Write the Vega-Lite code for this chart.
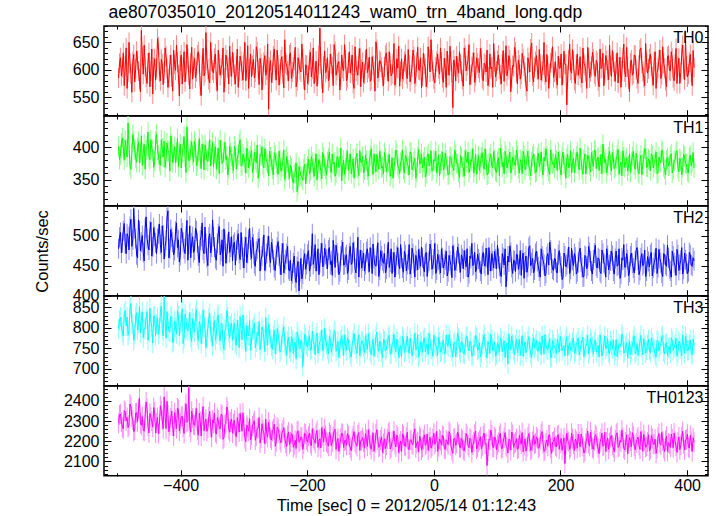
{
"$schema":"https://vega.github.io/schema/vega-lite/v6.json",
"padding":{"left":33,"top":4,"right":5,"bottom":0},
"title":{"text":"ae807035010_20120514011243_wam0_trn_4band_long.qdp","anchor":"start","fontSize":17.5,"dx":75,"offset":3},
"data":{"values":[
{"t":-498,"a":585,"b":402,"c":478,"d":798,"e":2290},
{"t":-495,"a":622,"b":388,"c":505,"d":826,"e":2335},
{"t":-492,"a":604,"b":415,"c":488,"d":790,"e":2270},
{"t":-489,"a":571,"b":380,"c":520,"d":835,"e":2352},
{"t":-486,"a":640,"b":398,"c":470,"d":805,"e":2301},
{"t":-483,"a":596,"b":438,"c":498,"d":782,"e":2268},
{"t":-480,"a":612,"b":372,"c":515,"d":848,"e":2385},
{"t":-477,"a":559,"b":392,"c":482,"d":812,"e":2322},
{"t":-474,"a":628,"b":410,"c":545,"d":770,"e":2248},
{"t":-471,"a":601,"b":384,"c":495,"d":829,"e":2340},
{"t":-468,"a":617,"b":400,"c":463,"d":795,"e":2297},
{"t":-465,"a":583,"b":376,"c":508,"d":852,"e":2415},
{"t":-462,"a":672,"b":418,"c":489,"d":818,"e":2280},
{"t":-459,"a":592,"b":391,"c":472,"d":776,"e":2255},
{"t":-456,"a":606,"b":366,"c":512,"d":801,"e":2330},
{"t":-453,"a":575,"b":402,"c":495,"d":840,"e":2362},
{"t":-450,"a":631,"b":385,"c":476,"d":788,"e":2242},
{"t":-447,"a":598,"b":412,"c":522,"d":815,"e":2318},
{"t":-444,"a":556,"b":394,"c":481,"d":763,"e":2270},
{"t":-441,"a":620,"b":379,"c":499,"d":829,"e":2345},
{"t":-438,"a":603,"b":421,"c":470,"d":810,"e":2290},
{"t":-435,"a":642,"b":388,"c":503,"d":784,"e":2238},
{"t":-432,"a":580,"b":372,"c":485,"d":838,"e":2376},
{"t":-429,"a":611,"b":399,"c":516,"d":797,"e":2305},
{"t":-426,"a":594,"b":410,"c":461,"d":876,"e":2420},
{"t":-423,"a":625,"b":382,"c":492,"d":775,"e":2262},
{"t":-420,"a":568,"b":395,"c":541,"d":812,"e":2331},
{"t":-417,"a":609,"b":363,"c":478,"d":790,"e":2279},
{"t":-414,"a":587,"b":405,"c":497,"d":826,"e":2350},
{"t":-411,"a":636,"b":390,"c":468,"d":768,"e":2226},
{"t":-408,"a":599,"b":376,"c":507,"d":803,"e":2308},
{"t":-405,"a":614,"b":414,"c":480,"d":842,"e":2365},
{"t":-402,"a":552,"b":392,"c":456,"d":781,"e":2251},
{"t":-399,"a":627,"b":368,"c":512,"d":815,"e":2322},
{"t":-396,"a":605,"b":401,"c":489,"d":762,"e":2270},
{"t":-393,"a":578,"b":385,"c":470,"d":834,"e":2340},
{"t":-390,"a":646,"b":432,"c":525,"d":798,"e":2294},
{"t":-387,"a":590,"b":379,"c":486,"d":810,"e":2466},
{"t":-384,"a":612,"b":396,"c":463,"d":776,"e":2245},
{"t":-381,"a":583,"b":388,"c":498,"d":823,"e":2316},
{"t":-378,"a":621,"b":410,"c":476,"d":790,"e":2280},
{"t":-375,"a":597,"b":371,"c":508,"d":845,"e":2362},
{"t":-372,"a":633,"b":393,"c":466,"d":770,"e":2230},
{"t":-369,"a":570,"b":382,"c":492,"d":808,"e":2298},
{"t":-366,"a":608,"b":405,"c":521,"d":785,"e":2328},
{"t":-363,"a":589,"b":365,"c":470,"d":822,"e":2252},
{"t":-360,"a":668,"b":396,"c":487,"d":752,"e":2310},
{"t":-357,"a":601,"b":378,"c":450,"d":799,"e":2265},
{"t":-354,"a":576,"b":412,"c":503,"d":836,"e":2348},
{"t":-351,"a":615,"b":388,"c":481,"d":778,"e":2220},
{"t":-348,"a":594,"b":370,"c":498,"d":805,"e":2290},
{"t":-345,"a":629,"b":401,"c":462,"d":770,"e":2245},
{"t":-342,"a":562,"b":384,"c":487,"d":828,"e":2318},
{"t":-339,"a":611,"b":359,"c":515,"d":783,"e":2270},
{"t":-336,"a":603,"b":396,"c":474,"d":812,"e":2335},
{"t":-333,"a":640,"b":377,"c":449,"d":761,"e":2210},
{"t":-330,"a":585,"b":408,"c":492,"d":796,"e":2282},
{"t":-327,"a":618,"b":386,"c":470,"d":843,"e":2370},
{"t":-324,"a":574,"b":368,"c":506,"d":788,"e":2258},
{"t":-321,"a":606,"b":392,"c":481,"d":805,"e":2296},
{"t":-318,"a":632,"b":375,"c":458,"d":770,"e":2240},
{"t":-315,"a":591,"b":402,"c":489,"d":812,"e":2305},
{"t":-312,"a":607,"b":366,"c":475,"d":758,"e":2222},
{"t":-309,"a":568,"b":389,"c":503,"d":795,"e":2290},
{"t":-306,"a":625,"b":412,"c":460,"d":828,"e":2338},
{"t":-303,"a":598,"b":372,"c":481,"d":771,"e":2250},
{"t":-300,"a":614,"b":385,"c":446,"d":805,"e":2275},
{"t":-297,"a":580,"b":360,"c":497,"d":743,"e":2198},
{"t":-294,"a":644,"b":394,"c":470,"d":790,"e":2268},
{"t":-291,"a":602,"b":381,"c":512,"d":818,"e":2312},
{"t":-288,"a":587,"b":395,"c":462,"d":768,"e":2230},
{"t":-285,"a":619,"b":368,"c":486,"d":801,"e":2290},
{"t":-282,"a":596,"b":382,"c":449,"d":752,"e":2205},
{"t":-279,"a":633,"b":404,"c":478,"d":789,"e":2262},
{"t":-276,"a":573,"b":361,"c":495,"d":816,"e":2318},
{"t":-273,"a":610,"b":387,"c":460,"d":760,"e":2215},
{"t":-270,"a":589,"b":373,"c":481,"d":794,"e":2256},
{"t":-267,"a":626,"b":398,"c":442,"d":742,"e":2188},
{"t":-264,"a":600,"b":379,"c":470,"d":781,"e":2240},
{"t":-261,"a":528,"b":356,"c":499,"d":810,"e":2295},
{"t":-258,"a":617,"b":385,"c":455,"d":772,"e":2218},
{"t":-255,"a":594,"b":366,"c":478,"d":748,"e":2250},
{"t":-252,"a":638,"b":392,"c":447,"d":795,"e":2285},
{"t":-249,"a":581,"b":375,"c":468,"d":760,"e":2198},
{"t":-246,"a":609,"b":358,"c":490,"d":786,"e":2262},
{"t":-243,"a":592,"b":381,"c":452,"d":741,"e":2205},
{"t":-240,"a":624,"b":369,"c":471,"d":777,"e":2240},
{"t":-237,"a":567,"b":396,"c":438,"d":803,"e":2268},
{"t":-234,"a":613,"b":362,"c":460,"d":755,"e":2190},
{"t":-231,"a":598,"b":377,"c":482,"d":768,"e":2230},
{"t":-228,"a":627,"b":352,"c":441,"d":750,"e":2185},
{"t":-225,"a":584,"b":368,"c":425,"d":779,"e":2238},
{"t":-222,"a":605,"b":345,"c":455,"d":738,"e":2170},
{"t":-219,"a":641,"b":361,"c":430,"d":766,"e":2205},
{"t":-216,"a":579,"b":331,"c":448,"d":790,"e":2248},
{"t":-213,"a":611,"b":370,"c":408,"d":752,"e":2195},
{"t":-210,"a":596,"b":356,"c":462,"d":770,"e":2222},
{"t":-207,"a":620,"b":349,"c":436,"d":706,"e":2160},
{"t":-204,"a":563,"b":374,"c":470,"d":785,"e":2240},
{"t":-201,"a":608,"b":360,"c":452,"d":758,"e":2208},
{"t":-198,"a":590,"b":382,"c":475,"d":770,"e":2225},
{"t":-195,"a":632,"b":363,"c":448,"d":745,"e":2190},
{"t":-192,"a":601,"b":377,"c":503,"d":792,"e":2262},
{"t":-189,"a":575,"b":355,"c":462,"d":760,"e":2205},
{"t":-186,"a":616,"b":390,"c":441,"d":778,"e":2238},
{"t":-183,"a":592,"b":368,"c":478,"d":738,"e":2170},
{"t":-180,"a":676,"b":374,"c":455,"d":767,"e":2212},
{"t":-177,"a":583,"b":351,"c":487,"d":795,"e":2268},
{"t":-174,"a":607,"b":385,"c":450,"d":752,"e":2196},
{"t":-171,"a":595,"b":366,"c":469,"d":771,"e":2230},
{"t":-168,"a":622,"b":378,"c":445,"d":748,"e":2190},
{"t":-165,"a":586,"b":393,"c":480,"d":780,"e":2245},
{"t":-162,"a":610,"b":361,"c":458,"d":741,"e":2178},
{"t":-159,"a":571,"b":374,"c":492,"d":766,"e":2222},
{"t":-156,"a":634,"b":355,"c":447,"d":790,"e":2260},
{"t":-153,"a":599,"b":386,"c":471,"d":752,"e":2198},
{"t":-150,"a":615,"b":369,"c":435,"d":728,"e":2150},
{"t":-147,"a":588,"b":399,"c":466,"d":771,"e":2215},
{"t":-144,"a":603,"b":372,"c":489,"d":759,"e":2236},
{"t":-141,"a":646,"b":358,"c":452,"d":783,"e":2202},
{"t":-138,"a":580,"b":381,"c":468,"d":745,"e":2180},
{"t":-135,"a":612,"b":364,"c":443,"d":770,"e":2228},
{"t":-132,"a":594,"b":390,"c":482,"d":738,"e":2168},
{"t":-129,"a":627,"b":370,"c":455,"d":762,"e":2210},
{"t":-126,"a":566,"b":352,"c":474,"d":787,"e":2248},
{"t":-123,"a":608,"b":384,"c":438,"d":750,"e":2186},
{"t":-120,"a":590,"b":367,"c":497,"d":773,"e":2232},
{"t":-117,"a":639,"b":395,"c":460,"d":732,"e":2155},
{"t":-114,"a":601,"b":376,"c":446,"d":768,"e":2205},
{"t":-111,"a":577,"b":360,"c":471,"d":756,"e":2195},
{"t":-108,"a":618,"b":388,"c":452,"d":781,"e":2238},
{"t":-105,"a":595,"b":365,"c":478,"d":748,"e":2175},
{"t":-102,"a":623,"b":379,"c":440,"d":766,"e":2215},
{"t":-99,"a":582,"b":398,"c":463,"d":735,"e":2160},
{"t":-96,"a":609,"b":358,"c":486,"d":772,"e":2242},
{"t":-93,"a":561,"b":375,"c":451,"d":754,"e":2190},
{"t":-90,"a":637,"b":389,"c":467,"d":790,"e":2258},
{"t":-87,"a":597,"b":366,"c":432,"d":743,"e":2170},
{"t":-84,"a":614,"b":381,"c":475,"d":762,"e":2206},
{"t":-81,"a":588,"b":370,"c":458,"d":728,"e":2145},
{"t":-78,"a":605,"b":392,"c":470,"d":768,"e":2212},
{"t":-75,"a":631,"b":362,"c":444,"d":749,"e":2180},
{"t":-72,"a":579,"b":377,"c":489,"d":777,"e":2240},
{"t":-69,"a":612,"b":355,"c":456,"d":736,"e":2162},
{"t":-66,"a":593,"b":384,"c":437,"d":759,"e":2198},
{"t":-63,"a":648,"b":369,"c":472,"d":785,"e":2250},
{"t":-60,"a":586,"b":396,"c":451,"d":742,"e":2172},
{"t":-57,"a":603,"b":372,"c":480,"d":766,"e":2220},
{"t":-54,"a":570,"b":359,"c":445,"d":751,"e":2185},
{"t":-51,"a":620,"b":380,"c":463,"d":730,"e":2150},
{"t":-48,"a":597,"b":366,"c":439,"d":772,"e":2228},
{"t":-45,"a":628,"b":388,"c":468,"d":747,"e":2175},
{"t":-42,"a":584,"b":374,"c":452,"d":780,"e":2245},
{"t":-39,"a":609,"b":357,"c":485,"d":738,"e":2160},
{"t":-36,"a":591,"b":392,"c":446,"d":761,"e":2208},
{"t":-33,"a":636,"b":370,"c":470,"d":744,"e":2182},
{"t":-30,"a":575,"b":383,"c":431,"d":788,"e":2262},
{"t":-27,"a":614,"b":361,"c":458,"d":752,"e":2190},
{"t":-24,"a":600,"b":397,"c":477,"d":729,"e":2148},
{"t":-21,"a":622,"b":376,"c":449,"d":767,"e":2215},
{"t":-18,"a":588,"b":368,"c":463,"d":741,"e":2170},
{"t":-15,"a":611,"b":385,"c":440,"d":776,"e":2232},
{"t":-12,"a":569,"b":359,"c":472,"d":753,"e":2188},
{"t":-9,"a":642,"b":390,"c":455,"d":735,"e":2155},
{"t":-6,"a":596,"b":374,"c":486,"d":769,"e":2220},
{"t":-3,"a":618,"b":363,"c":444,"d":748,"e":2178},
{"t":0,"a":583,"b":381,"c":461,"d":782,"e":2240},
{"t":3,"a":605,"b":394,"c":437,"d":757,"e":2196},
{"t":6,"a":629,"b":370,"c":469,"d":733,"e":2150},
{"t":9,"a":592,"b":356,"c":452,"d":766,"e":2210},
{"t":12,"a":614,"b":379,"c":478,"d":745,"e":2182},
{"t":15,"a":577,"b":365,"c":446,"d":771,"e":2225},
{"t":18,"a":603,"b":391,"c":460,"d":738,"e":2160},
{"t":21,"a":634,"b":372,"c":433,"d":760,"e":2198},
{"t":24,"a":590,"b":358,"c":467,"d":784,"e":2248},
{"t":27,"a":616,"b":384,"c":451,"d":750,"e":2178},
{"t":30,"a":531,"b":369,"c":483,"d":729,"e":2140},
{"t":33,"a":607,"b":396,"c":442,"d":766,"e":2215},
{"t":36,"a":625,"b":375,"c":458,"d":752,"e":2190},
{"t":39,"a":594,"b":361,"c":470,"d":775,"e":2232},
{"t":42,"a":611,"b":387,"c":439,"d":741,"e":2168},
{"t":45,"a":582,"b":370,"c":462,"d":763,"e":2205},
{"t":48,"a":640,"b":355,"c":475,"d":736,"e":2152},
{"t":51,"a":598,"b":382,"c":448,"d":778,"e":2238},
{"t":54,"a":617,"b":393,"c":431,"d":750,"e":2180},
{"t":57,"a":573,"b":367,"c":466,"d":768,"e":2215},
{"t":60,"a":606,"b":378,"c":487,"d":731,"e":2145},
{"t":63,"a":631,"b":360,"c":452,"d":757,"e":2196},
{"t":66,"a":589,"b":389,"c":440,"d":782,"e":2250},
{"t":69,"a":612,"b":374,"c":469,"d":746,"e":2172},
{"t":72,"a":595,"b":364,"c":455,"d":764,"e":2205},
{"t":75,"a":622,"b":385,"c":436,"d":739,"e":2162},
{"t":78,"a":580,"b":371,"c":472,"d":771,"e":2228},
{"t":81,"a":609,"b":398,"c":449,"d":753,"e":2185},
{"t":84,"a":636,"b":357,"c":463,"d":727,"e":2080},
{"t":87,"a":587,"b":376,"c":480,"d":760,"e":2210},
{"t":90,"a":602,"b":390,"c":441,"d":785,"e":2255},
{"t":93,"a":568,"b":368,"c":458,"d":744,"e":2170},
{"t":96,"a":615,"b":380,"c":474,"d":766,"e":2222},
{"t":99,"a":598,"b":361,"c":445,"d":735,"e":2158},
{"t":102,"a":627,"b":384,"c":462,"d":758,"e":2195},
{"t":105,"a":591,"b":399,"c":438,"d":776,"e":2240},
{"t":108,"a":610,"b":370,"c":470,"d":742,"e":2165},
{"t":111,"a":579,"b":359,"c":451,"d":769,"e":2218},
{"t":114,"a":644,"b":387,"c":415,"d":751,"e":2178},
{"t":117,"a":600,"b":375,"c":466,"d":712,"e":2142},
{"t":120,"a":618,"b":393,"c":483,"d":762,"e":2208},
{"t":123,"a":585,"b":366,"c":447,"d":780,"e":2246},
{"t":126,"a":606,"b":381,"c":459,"d":745,"e":2170},
{"t":129,"a":633,"b":372,"c":440,"d":757,"e":2195},
{"t":132,"a":574,"b":388,"c":468,"d":740,"e":2160},
{"t":135,"a":609,"b":360,"c":452,"d":772,"e":2230},
{"t":138,"a":592,"b":377,"c":434,"d":755,"e":2185},
{"t":141,"a":620,"b":394,"c":471,"d":731,"e":2148},
{"t":144,"a":596,"b":365,"c":456,"d":766,"e":2212},
{"t":147,"a":561,"b":382,"c":439,"d":748,"e":2172},
{"t":150,"a":613,"b":371,"c":480,"d":779,"e":2238},
{"t":153,"a":638,"b":356,"c":450,"d":736,"e":2155},
{"t":156,"a":589,"b":386,"c":462,"d":761,"e":2200},
{"t":159,"a":604,"b":374,"c":443,"d":752,"e":2185},
{"t":162,"a":626,"b":362,"c":474,"d":770,"e":2222},
{"t":165,"a":583,"b":391,"c":448,"d":743,"e":2165},
{"t":168,"a":611,"b":378,"c":431,"d":764,"e":2208},
{"t":171,"a":597,"b":367,"c":466,"d":781,"e":2248},
{"t":174,"a":650,"b":385,"c":452,"d":737,"e":2150},
{"t":177,"a":578,"b":398,"c":437,"d":758,"e":2192},
{"t":180,"a":607,"b":370,"c":470,"d":746,"e":2175},
{"t":183,"a":593,"b":358,"c":489,"d":774,"e":2232},
{"t":186,"a":621,"b":381,"c":454,"d":729,"e":2140},
{"t":189,"a":586,"b":376,"c":442,"d":760,"e":2200},
{"t":192,"a":615,"b":389,"c":461,"d":750,"e":2178},
{"t":195,"a":572,"b":364,"c":438,"d":773,"e":2226},
{"t":198,"a":603,"b":380,"c":475,"d":741,"e":2160},
{"t":201,"a":629,"b":357,"c":449,"d":767,"e":2215},
{"t":204,"a":594,"b":393,"c":430,"d":753,"e":2185},
{"t":207,"a":610,"b":372,"c":466,"d":732,"e":2090},
{"t":210,"a":536,"b":383,"c":452,"d":779,"e":2240},
{"t":213,"a":618,"b":368,"c":481,"d":758,"e":2198},
{"t":216,"a":599,"b":395,"c":444,"d":744,"e":2170},
{"t":219,"a":637,"b":377,"c":459,"d":765,"e":2212},
{"t":222,"a":581,"b":361,"c":470,"d":738,"e":2155},
{"t":225,"a":608,"b":386,"c":436,"d":760,"e":2200},
{"t":228,"a":590,"b":374,"c":455,"d":776,"e":2236},
{"t":231,"a":624,"b":399,"c":479,"d":745,"e":2172},
{"t":234,"a":576,"b":366,"c":447,"d":769,"e":2218},
{"t":237,"a":612,"b":380,"c":432,"d":730,"e":2142},
{"t":240,"a":597,"b":359,"c":465,"d":755,"e":2190},
{"t":243,"a":641,"b":388,"c":450,"d":782,"e":2250},
{"t":246,"a":585,"b":372,"c":472,"d":748,"e":2176},
{"t":249,"a":606,"b":392,"c":441,"d":764,"e":2208},
{"t":252,"a":620,"b":370,"c":460,"d":737,"e":2160},
{"t":255,"a":588,"b":395,"c":484,"d":771,"e":2232},
{"t":258,"a":613,"b":382,"c":446,"d":752,"e":2190},
{"t":261,"a":569,"b":364,"c":461,"d":729,"e":2138},
{"t":264,"a":602,"b":389,"c":437,"d":766,"e":2212},
{"t":267,"a":630,"b":405,"c":470,"d":745,"e":2175},
{"t":270,"a":594,"b":376,"c":452,"d":780,"e":2245},
{"t":273,"a":617,"b":360,"c":478,"d":756,"e":2196},
{"t":276,"a":582,"b":386,"c":443,"d":741,"e":2160},
{"t":279,"a":608,"b":373,"c":458,"d":768,"e":2220},
{"t":282,"a":635,"b":392,"c":467,"d":750,"e":2182},
{"t":285,"a":596,"b":367,"c":436,"d":733,"e":2148},
{"t":288,"a":611,"b":381,"c":474,"d":772,"e":2235},
{"t":291,"a":576,"b":397,"c":451,"d":747,"e":2170},
{"t":294,"a":623,"b":372,"c":429,"d":760,"e":2205},
{"t":297,"a":598,"b":356,"c":463,"d":785,"e":2255},
{"t":300,"a":647,"b":385,"c":485,"d":739,"e":2165},
{"t":303,"a":587,"b":378,"c":448,"d":756,"e":2196},
{"t":306,"a":605,"b":363,"c":460,"d":728,"e":2140},
{"t":309,"a":560,"b":390,"c":439,"d":767,"e":2218},
{"t":312,"a":618,"b":377,"c":471,"d":745,"e":2172},
{"t":315,"a":593,"b":394,"c":446,"d":770,"e":2226},
{"t":318,"a":626,"b":366,"c":458,"d":737,"e":2158},
{"t":321,"a":584,"b":381,"c":480,"d":762,"e":2210},
{"t":324,"a":609,"b":359,"c":435,"d":751,"e":2180},
{"t":327,"a":640,"b":388,"c":463,"d":782,"e":2248},
{"t":330,"a":597,"b":374,"c":450,"d":734,"e":2150},
{"t":333,"a":571,"b":398,"c":476,"d":758,"e":2202},
{"t":336,"a":614,"b":369,"c":441,"d":746,"e":2174},
{"t":339,"a":602,"b":382,"c":457,"d":772,"e":2232},
{"t":342,"a":629,"b":364,"c":468,"d":740,"e":2162},
{"t":345,"a":588,"b":387,"c":433,"d":763,"e":2214},
{"t":348,"a":615,"b":375,"c":455,"d":749,"e":2185},
{"t":351,"a":566,"b":393,"c":479,"d":729,"e":2140},
{"t":354,"a":603,"b":361,"c":447,"d":768,"e":2220},
{"t":357,"a":636,"b":379,"c":462,"d":755,"e":2190},
{"t":360,"a":591,"b":396,"c":438,"d":778,"e":2244},
{"t":363,"a":612,"b":370,"c":470,"d":742,"e":2166},
{"t":366,"a":580,"b":357,"c":452,"d":761,"e":2205},
{"t":369,"a":624,"b":384,"c":484,"d":733,"e":2150},
{"t":372,"a":599,"b":373,"c":445,"d":754,"e":2188},
{"t":375,"a":633,"b":390,"c":431,"d":776,"e":2236},
{"t":378,"a":586,"b":366,"c":466,"d":745,"e":2168},
{"t":381,"a":610,"b":381,"c":450,"d":760,"e":2200},
{"t":384,"a":575,"b":395,"c":477,"d":731,"e":2145},
{"t":387,"a":621,"b":362,"c":442,"d":768,"e":2222},
{"t":390,"a":595,"b":378,"c":459,"d":750,"e":2180},
{"t":393,"a":645,"b":369,"c":436,"d":783,"e":2250},
{"t":396,"a":582,"b":386,"c":471,"d":738,"e":2158},
{"t":399,"a":607,"b":374,"c":453,"d":762,"e":2210},
{"t":402,"a":592,"b":360,"c":440,"d":746,"e":2172},
{"t":405,"a":628,"b":388,"c":468,"d":771,"e":2230},
{"t":408,"a":571,"b":377,"c":449,"d":735,"e":2150},
{"t":411,"a":604,"b":368,"c":458,"d":757,"e":2195},
{"t":-496.5,"a":612,"b":381,"c":497,"d":819,"e":2330},
{"t":-493.5,"a":589,"b":407,"c":471,"d":803,"e":2296},
{"t":-490.5,"a":631,"b":399,"c":508,"d":781,"e":2262},
{"t":-487.5,"a":607,"b":411,"c":486,"d":842,"e":2347},
{"t":-484.5,"a":566,"b":385,"c":503,"d":826,"e":2318},
{"t":-481.5,"a":650,"b":403,"c":476,"d":793,"e":2279},
{"t":-478.5,"a":593,"b":366,"c":527,"d":860,"e":2371},
{"t":-475.5,"a":615,"b":420,"c":493,"d":808,"e":2305},
{"t":-472.5,"a":578,"b":397,"c":511,"d":784,"e":2256},
{"t":-469.5,"a":634,"b":377,"c":468,"d":837,"e":2341},
{"t":-466.5,"a":598,"b":409,"c":526,"d":812,"e":2360},
{"t":-463.5,"a":560,"b":391,"c":475,"d":788,"e":2289},
{"t":-460.5,"a":624,"b":372,"c":500,"d":839,"e":2322},
{"t":-457.5,"a":645,"b":405,"c":458,"d":796,"e":2250},
{"t":-454.5,"a":587,"b":396,"c":531,"d":823,"e":2395},
{"t":-451.5,"a":613,"b":424,"c":484,"d":770,"e":2274},
{"t":-448.5,"a":569,"b":381,"c":507,"d":848,"e":2338},
{"t":-445.5,"a":638,"b":398,"c":466,"d":802,"e":2299},
{"t":-442.5,"a":605,"b":369,"c":513,"d":829,"e":2367},
{"t":-439.5,"a":581,"b":410,"c":488,"d":781,"e":2241},
{"t":-436.5,"a":657,"b":396,"c":495,"d":826,"e":2318},
{"t":-433.5,"a":596,"b":378,"c":519,"d":799,"e":2285},
{"t":-430.5,"a":619,"b":412,"c":472,"d":853,"e":2352},
{"t":-427.5,"a":573,"b":385,"c":501,"d":781,"e":2263},
{"t":-424.5,"a":640,"b":369,"c":482,"d":818,"e":2330},
{"t":-421.5,"a":602,"b":407,"c":529,"d":840,"e":2398},
{"t":-418.5,"a":584,"b":393,"c":463,"d":792,"e":2247},
{"t":-415.5,"a":627,"b":418,"c":510,"d":829,"e":2315},
{"t":-412.5,"a":561,"b":376,"c":489,"d":764,"e":2276},
{"t":-409.5,"a":610,"b":401,"c":475,"d":817,"e":2342},
{"t":-406.5,"a":645,"b":392,"c":521,"d":786,"e":2262},
{"t":-403.5,"a":591,"b":370,"c":493,"d":831,"e":2357},
{"t":-400.5,"a":616,"b":405,"c":467,"d":809,"e":2288},
{"t":-397.5,"a":574,"b":390,"c":504,"d":847,"e":2325},
{"t":-394.5,"a":633,"b":417,"c":478,"d":775,"e":2239},
{"t":-391.5,"a":598,"b":361,"c":499,"d":821,"e":2386},
{"t":-388.5,"a":620,"b":398,"c":459,"d":793,"e":2300},
{"t":-385.5,"a":565,"b":383,"c":516,"d":838,"e":2271},
{"t":-382.5,"a":641,"b":409,"c":488,"d":767,"e":2349},
{"t":-379.5,"a":606,"b":377,"c":472,"d":812,"e":2283},
{"t":-376.5,"a":585,"b":399,"c":512,"d":830,"e":2318},
{"t":-373.5,"a":627,"b":378,"c":488,"d":779,"e":2257},
{"t":-370.5,"a":612,"b":414,"c":455,"d":816,"e":2340},
{"t":-367.5,"a":553,"b":367,"c":499,"d":762,"e":2226},
{"t":-364.5,"a":639,"b":392,"c":476,"d":843,"e":2371},
{"t":-361.5,"a":595,"b":404,"c":514,"d":801,"e":2293},
{"t":-358.5,"a":617,"b":380,"c":463,"d":774,"e":2249},
{"t":-355.5,"a":582,"b":395,"c":497,"d":824,"e":2322},
{"t":-352.5,"a":650,"b":371,"c":471,"d":790,"e":2270},
{"t":-349.5,"a":599,"b":408,"c":526,"d":756,"e":2305},
{"t":-346.5,"a":621,"b":390,"c":481,"d":818,"e":2340},
{"t":-343.5,"a":578,"b":366,"c":459,"d":785,"e":2236},
{"t":-340.5,"a":636,"b":399,"c":503,"d":832,"e":2304},
{"t":-337.5,"a":590,"b":411,"c":468,"d":768,"e":2261},
{"t":-334.5,"a":609,"b":375,"c":493,"d":809,"e":2329},
{"t":-331.5,"a":559,"b":394,"c":511,"d":747,"e":2218},
{"t":-328.5,"a":627,"b":381,"c":454,"d":796,"e":2288},
{"t":-325.5,"a":604,"b":357,"c":486,"d":827,"e":2351},
{"t":-322.5,"a":643,"b":402,"c":472,"d":775,"e":2245},
{"t":-319.5,"a":588,"b":386,"c":498,"d":812,"e":2310},
{"t":-316.5,"a":612,"b":364,"c":485,"d":797,"e":2287},
{"t":-313.5,"a":574,"b":395,"c":451,"d":764,"e":2229},
{"t":-310.5,"a":638,"b":383,"c":493,"d":819,"e":2318},
{"t":-307.5,"a":597,"b":405,"c":470,"d":752,"e":2246},
{"t":-304.5,"a":615,"b":371,"c":505,"d":798,"e":2296},
{"t":-301.5,"a":581,"b":390,"c":463,"d":832,"e":2341},
{"t":-298.5,"a":650,"b":376,"c":482,"d":769,"e":2214},
{"t":-295.5,"a":603,"b":399,"c":455,"d":806,"e":2280},
{"t":-292.5,"a":566,"b":368,"c":494,"d":781,"e":2250},
{"t":-289.5,"a":629,"b":387,"c":476,"d":746,"e":2207},
{"t":-286.5,"a":608,"b":361,"c":497,"d":795,"e":2276},
{"t":-283.5,"a":585,"b":393,"c":453,"d":812,"e":2302},
{"t":-280.5,"a":642,"b":376,"c":474,"d":766,"e":2226},
{"t":-277.5,"a":600,"b":352,"c":489,"d":781,"e":2265},
{"t":-274.5,"a":621,"b":389,"c":441,"d":747,"e":2192},
{"t":-271.5,"a":563,"b":401,"c":466,"d":803,"e":2287},
{"t":-268.5,"a":614,"b":368,"c":501,"d":774,"e":2241},
{"t":-265.5,"a":590,"b":385,"c":457,"d":826,"e":2310},
{"t":-262.5,"a":647,"b":374,"c":483,"d":758,"e":2220},
{"t":-259.5,"a":604,"b":394,"c":464,"d":787,"e":2258},
{"t":-256.5,"a":577,"b":379,"c":489,"d":756,"e":2206},
{"t":-253.5,"a":625,"b":357,"c":459,"d":781,"e":2262},
{"t":-250.5,"a":601,"b":388,"c":442,"d":737,"e":2175},
{"t":-247.5,"a":636,"b":370,"c":481,"d":799,"e":2270},
{"t":-244.5,"a":572,"b":394,"c":466,"d":768,"e":2238},
{"t":-241.5,"a":618,"b":363,"c":435,"d":745,"e":2193},
{"t":-238.5,"a":593,"b":378,"c":487,"d":786,"e":2255},
{"t":-235.5,"a":655,"b":350,"c":452,"d":762,"e":2215},
{"t":-232.5,"a":609,"b":386,"c":470,"d":733,"e":2174},
{"t":-229.5,"a":580,"b":365,"c":444,"d":778,"e":2246},
{"t":-226.5,"a":631,"b":372,"c":459,"d":741,"e":2198},
{"t":-223.5,"a":596,"b":349,"c":437,"d":771,"e":2233},
{"t":-220.5,"a":617,"b":358,"c":466,"d":755,"e":2181},
{"t":-217.5,"a":569,"b":376,"c":422,"d":724,"e":2165},
{"t":-214.5,"a":622,"b":342,"c":457,"d":781,"e":2252},
{"t":-211.5,"a":600,"b":363,"c":440,"d":749,"e":2201},
{"t":-208.5,"a":647,"b":354,"c":428,"d":765,"e":2219},
{"t":-205.5,"a":583,"b":367,"c":460,"d":742,"e":2187},
{"t":-202.5,"a":609,"b":343,"c":444,"d":776,"e":2236},
{"t":-199.5,"a":575,"b":371,"c":469,"d":754,"e":2196},
{"t":-196.5,"a":618,"b":359,"c":441,"d":781,"e":2240},
{"t":-193.5,"a":587,"b":386,"c":466,"d":749,"e":2178},
{"t":-190.5,"a":640,"b":368,"c":452,"d":767,"e":2216},
{"t":-187.5,"a":596,"b":375,"c":485,"d":735,"e":2190},
{"t":-184.5,"a":570,"b":349,"c":457,"d":788,"e":2254},
{"t":-181.5,"a":625,"b":381,"c":435,"d":756,"e":2205},
{"t":-178.5,"a":611,"b":363,"c":471,"d":772,"e":2167},
{"t":-175.5,"a":558,"b":392,"c":448,"d":744,"e":2228},
{"t":-172.5,"a":634,"b":371,"c":479,"d":799,"e":2262},
{"t":-169.5,"a":602,"b":357,"c":461,"d":760,"e":2198},
{"t":-166.5,"a":580,"b":383,"c":476,"d":737,"e":2176},
{"t":-163.5,"a":629,"b":366,"c":452,"d":772,"e":2231},
{"t":-160.5,"a":605,"b":390,"c":434,"d":755,"e":2195},
{"t":-157.5,"a":646,"b":377,"c":469,"d":794,"e":2252},
{"t":-154.5,"a":590,"b":360,"c":484,"d":743,"e":2160},
{"t":-151.5,"a":612,"b":384,"c":455,"d":768,"e":2214},
{"t":-148.5,"a":563,"b":371,"c":440,"d":750,"e":2188},
{"t":-145.5,"a":627,"b":348,"c":476,"d":781,"e":2240},
{"t":-142.5,"a":598,"b":380,"c":451,"d":733,"e":2169},
{"t":-139.5,"a":619,"b":368,"c":464,"d":762,"e":2207},
{"t":-136.5,"a":586,"b":394,"c":437,"d":776,"e":2238},
{"t":-133.5,"a":633,"b":375,"c":471,"d":748,"e":2182},
{"t":-130.5,"a":609,"b":359,"c":452,"d":729,"e":2153},
{"t":-127.5,"a":575,"b":382,"c":488,"d":771,"e":2226},
{"t":-124.5,"a":642,"b":369,"c":445,"d":759,"e":2198},
{"t":-121.5,"a":598,"b":391,"c":463,"d":738,"e":2175},
{"t":-118.5,"a":621,"b":356,"c":431,"d":784,"e":2244},
{"t":-115.5,"a":569,"b":377,"c":476,"d":753,"e":2203},
{"t":-112.5,"a":614,"b":386,"c":458,"d":767,"e":2219},
{"t":-109.5,"a":592,"b":365,"c":441,"d":740,"e":2166},
{"t":-106.5,"a":638,"b":380,"c":473,"d":763,"e":2210},
{"t":-103.5,"a":603,"b":355,"c":455,"d":786,"e":2257},
{"t":-100.5,"a":579,"b":387,"c":480,"d":744,"e":2181},
{"t":-97.5,"a":624,"b":372,"c":437,"d":757,"e":2196},
{"t":-94.5,"a":596,"b":390,"c":462,"d":731,"e":2150},
{"t":-91.5,"a":651,"b":362,"c":449,"d":779,"e":2236},
{"t":-88.5,"a":585,"b":376,"c":488,"d":752,"e":2205},
{"t":-85.5,"a":617,"b":394,"c":443,"d":768,"e":2175},
{"t":-82.5,"a":604,"b":368,"c":466,"d":741,"e":2222},
{"t":-79.5,"a":571,"b":359,"c":454,"d":773,"e":2189},
{"t":-76.5,"a":626,"b":384,"c":438,"d":745,"e":2163},
{"t":-73.5,"a":598,"b":373,"c":469,"d":761,"e":2213},
{"t":-70.5,"a":633,"b":389,"c":447,"d":782,"e":2247},
{"t":-67.5,"a":589,"b":364,"c":478,"d":737,"e":2170},
{"t":-64.5,"a":611,"b":352,"c":456,"d":766,"e":2205},
{"t":-61.5,"a":572,"b":380,"c":431,"d":751,"e":2188},
{"t":-58.5,"a":620,"b":391,"c":467,"d":773,"e":2231},
{"t":-55.5,"a":643,"b":367,"c":452,"d":728,"e":2144},
{"t":-52.5,"a":597,"b":377,"c":485,"d":757,"e":2201},
{"t":-49.5,"a":583,"b":396,"c":446,"d":779,"e":2237},
{"t":-46.5,"a":615,"b":360,"c":474,"d":740,"e":2179},
{"t":-43.5,"a":592,"b":383,"c":441,"d":764,"e":2220},
{"t":-40.5,"a":637,"b":371,"c":460,"d":749,"e":2160},
{"t":-37.5,"a":578,"b":393,"c":436,"d":775,"e":2205},
{"t":-34.5,"a":605,"b":365,"c":479,"d":732,"e":2187},
{"t":-31.5,"a":624,"b":378,"c":454,"d":761,"e":2241},
{"t":-28.5,"a":588,"b":352,"c":467,"d":747,"e":2168},
{"t":-25.5,"a":641,"b":386,"c":443,"d":784,"e":2199},
{"t":-22.5,"a":599,"b":374,"c":462,"d":738,"e":2225},
{"t":-19.5,"a":567,"b":390,"c":481,"d":756,"e":2157},
{"t":-16.5,"a":630,"b":377,"c":448,"d":770,"e":2209},
{"t":-13.5,"a":603,"b":354,"c":469,"d":742,"e":2180},
{"t":-10.5,"a":584,"b":386,"c":432,"d":762,"e":2236},
{"t":-7.5,"a":619,"b":371,"c":458,"d":787,"e":2197},
{"t":-4.5,"a":655,"b":395,"c":476,"d":749,"e":2166},
{"t":-1.5,"a":597,"b":366,"c":451,"d":731,"e":2214},
{"t":1.5,"a":576,"b":379,"c":487,"d":764,"e":2185},
{"t":4.5,"a":615,"b":360,"c":443,"d":752,"e":2250},
{"t":7.5,"a":602,"b":388,"c":460,"d":778,"e":2173},
{"t":10.5,"a":640,"b":374,"c":438,"d":741,"e":2203},
{"t":13.5,"a":586,"b":392,"c":463,"d":760,"e":2229},
{"t":16.5,"a":621,"b":369,"c":452,"d":737,"e":2164},
{"t":19.5,"a":568,"b":380,"c":474,"d":783,"e":2207},
{"t":22.5,"a":609,"b":357,"c":440,"d":755,"e":2183},
{"t":25.5,"a":643,"b":386,"c":458,"d":770,"e":2239},
{"t":28.5,"a":595,"b":373,"c":430,"d":744,"e":2156},
{"t":31.5,"a":618,"b":364,"c":469,"d":762,"e":2212},
{"t":34.5,"a":580,"b":389,"c":447,"d":730,"e":2180},
{"t":37.5,"a":604,"b":375,"c":481,"d":788,"e":2246},
{"t":40.5,"a":633,"b":353,"c":455,"d":749,"e":2171},
{"t":43.5,"a":597,"b":384,"c":468,"d":767,"e":2214},
{"t":46.5,"a":570,"b":369,"c":445,"d":739,"e":2159},
{"t":49.5,"a":626,"b":395,"c":459,"d":758,"e":2193},
{"t":52.5,"a":608,"b":376,"c":478,"d":780,"e":2227},
{"t":55.5,"a":646,"b":361,"c":437,"d":744,"e":2168},
{"t":58.5,"a":591,"b":381,"c":462,"d":765,"e":2209},
{"t":61.5,"a":614,"b":398,"c":450,"d":733,"e":2182},
{"t":64.5,"a":577,"b":370,"c":472,"d":756,"e":2235},
{"t":67.5,"a":622,"b":358,"c":444,"d":776,"e":2162},
{"t":70.5,"a":603,"b":387,"c":461,"d":748,"e":2195},
{"t":73.5,"a":639,"b":375,"c":441,"d":729,"e":2223},
{"t":76.5,"a":584,"b":392,"c":466,"d":759,"e":2176},
{"t":79.5,"a":612,"b":366,"c":453,"d":784,"e":2241},
{"t":82.5,"a":596,"b":381,"c":479,"d":746,"e":2190},
{"t":85.5,"a":571,"b":358,"c":435,"d":767,"e":2148},
{"t":88.5,"a":629,"b":384,"c":458,"d":738,"e":2205},
{"t":91.5,"a":605,"b":371,"c":470,"d":772,"e":2231},
{"t":94.5,"a":648,"b":394,"c":446,"d":753,"e":2170},
{"t":97.5,"a":587,"b":363,"c":461,"d":731,"e":2212},
{"t":100.5,"a":617,"b":378,"c":484,"d":764,"e":2183},
{"t":103.5,"a":601,"b":356,"c":449,"d":741,"e":2226},
{"t":106.5,"a":574,"b":389,"c":432,"d":770,"e":2164},
{"t":109.5,"a":635,"b":377,"c":463,"d":756,"e":2199},
{"t":112.5,"a":612,"b":394,"c":478,"d":728,"e":2243},
{"t":115.5,"a":589,"b":368,"c":441,"d":763,"e":2171},
{"t":118.5,"a":626,"b":382,"c":456,"d":785,"e":2210},
{"t":121.5,"a":560,"b":360,"c":472,"d":747,"e":2156},
{"t":124.5,"a":608,"b":385,"c":437,"d":761,"e":2232},
{"t":127.5,"a":641,"b":373,"c":458,"d":736,"e":2188},
{"t":130.5,"a":595,"b":396,"c":469,"d":772,"e":2213},
{"t":133.5,"a":618,"b":367,"c":444,"d":757,"e":2167},
{"t":136.5,"a":583,"b":381,"c":475,"d":733,"e":2205},
{"t":139.5,"a":630,"b":359,"c":460,"d":781,"e":2244},
{"t":142.5,"a":607,"b":388,"c":429,"d":752,"e":2179},
{"t":145.5,"a":571,"b":372,"c":466,"d":740,"e":2151},
{"t":148.5,"a":622,"b":394,"c":448,"d":768,"e":2220},
{"t":151.5,"a":596,"b":365,"c":483,"d":751,"e":2196},
{"t":154.5,"a":649,"b":378,"c":455,"d":728,"e":2163},
{"t":157.5,"a":578,"b":390,"c":438,"d":776,"e":2228},
{"t":160.5,"a":615,"b":361,"c":470,"d":759,"e":2191},
{"t":163.5,"a":600,"b":384,"c":457,"d":744,"e":2214},
{"t":166.5,"a":637,"b":370,"c":441,"d":767,"e":2170},
{"t":169.5,"a":581,"b":393,"c":478,"d":735,"e":2236},
{"t":172.5,"a":609,"b":357,"c":459,"d":758,"e":2188},
{"t":175.5,"a":591,"b":379,"c":433,"d":784,"e":2156},
{"t":178.5,"a":628,"b":387,"c":465,"d":749,"e":2207},
{"t":181.5,"a":566,"b":363,"c":451,"d":763,"e":2231},
{"t":184.5,"a":613,"b":396,"c":476,"d":727,"e":2165},
{"t":187.5,"a":642,"b":374,"c":444,"d":770,"e":2196},
{"t":190.5,"a":596,"b":368,"c":462,"d":752,"e":2219},
{"t":193.5,"a":584,"b":380,"c":439,"d":738,"e":2172},
{"t":196.5,"a":625,"b":393,"c":468,"d":762,"e":2233},
{"t":199.5,"a":603,"b":366,"c":455,"d":780,"e":2191},
{"t":202.5,"a":572,"b":385,"c":427,"d":745,"e":2155},
{"t":205.5,"a":634,"b":374,"c":471,"d":757,"e":2218},
{"t":208.5,"a":610,"b":352,"c":448,"d":771,"e":2183},
{"t":211.5,"a":589,"b":389,"c":462,"d":733,"e":2204},
{"t":214.5,"a":647,"b":371,"c":437,"d":764,"e":2160},
{"t":217.5,"a":594,"b":360,"c":479,"d":751,"e":2240},
{"t":220.5,"a":617,"b":383,"c":450,"d":776,"e":2187},
{"t":223.5,"a":575,"b":376,"c":464,"d":743,"e":2211},
{"t":226.5,"a":629,"b":393,"c":440,"d":766,"e":2166},
{"t":229.5,"a":602,"b":365,"c":473,"d":734,"e":2198},
{"t":232.5,"a":586,"b":381,"c":456,"d":759,"e":2236},
{"t":235.5,"a":640,"b":358,"c":431,"d":778,"e":2175},
{"t":238.5,"a":608,"b":390,"c":467,"d":748,"e":2152},
{"t":241.5,"a":566,"b":373,"c":445,"d":762,"e":2215},
{"t":244.5,"a":621,"b":384,"c":482,"d":737,"e":2189},
{"t":247.5,"a":597,"b":362,"c":458,"d":774,"e":2245},
{"t":250.5,"a":632,"b":379,"c":436,"d":755,"e":2168},
{"t":253.5,"a":593,"b":396,"c":471,"d":766,"e":2203},
{"t":256.5,"a":617,"b":367,"c":449,"d":741,"e":2224},
{"t":259.5,"a":580,"b":385,"c":463,"d":758,"e":2165},
{"t":262.5,"a":638,"b":374,"c":440,"d":783,"e":2197},
{"t":265.5,"a":604,"b":359,"c":476,"d":732,"e":2240},
{"t":268.5,"a":571,"b":390,"c":455,"d":761,"e":2180},
{"t":271.5,"a":626,"b":381,"c":431,"d":749,"e":2150},
{"t":274.5,"a":599,"b":371,"c":467,"d":775,"e":2216},
{"t":277.5,"a":645,"b":394,"c":452,"d":736,"e":2193},
{"t":280.5,"a":588,"b":363,"c":474,"d":758,"e":2229},
{"t":283.5,"a":614,"b":382,"c":441,"d":771,"e":2169},
{"t":286.5,"a":579,"b":370,"c":462,"d":744,"e":2206},
{"t":289.5,"a":631,"b":388,"c":449,"d":730,"e":2242},
{"t":292.5,"a":605,"b":358,"c":478,"d":762,"e":2173},
{"t":295.5,"a":568,"b":377,"c":436,"d":755,"e":2195},
{"t":298.5,"a":622,"b":395,"c":459,"d":778,"e":2218},
{"t":301.5,"a":596,"b":369,"c":447,"d":742,"e":2157},
{"t":304.5,"a":641,"b":384,"c":470,"d":764,"e":2232},
{"t":307.5,"a":583,"b":372,"c":433,"d":749,"e":2185},
{"t":310.5,"a":612,"b":361,"c":466,"d":735,"e":2201},
{"t":313.5,"a":590,"b":386,"c":454,"d":757,"e":2243},
{"t":316.5,"a":627,"b":373,"c":438,"d":781,"e":2176},
{"t":319.5,"a":601,"b":391,"c":475,"d":744,"e":2192},
{"t":322.5,"a":575,"b":362,"c":459,"d":733,"e":2221},
{"t":325.5,"a":636,"b":378,"c":442,"d":766,"e":2160},
{"t":328.5,"a":612,"b":357,"c":470,"d":752,"e":2207},
{"t":331.5,"a":586,"b":384,"c":453,"d":774,"e":2234},
{"t":334.5,"a":648,"b":397,"c":432,"d":739,"e":2171},
{"t":337.5,"a":594,"b":370,"c":465,"d":761,"e":2196},
{"t":340.5,"a":620,"b":379,"c":448,"d":747,"e":2153},
{"t":343.5,"a":607,"b":390,"c":472,"d":776,"e":2229},
{"t":346.5,"a":572,"b":368,"c":446,"d":753,"e":2186},
{"t":349.5,"a":633,"b":381,"c":461,"d":736,"e":2210},
{"t":352.5,"a":595,"b":359,"c":437,"d":770,"e":2164},
{"t":355.5,"a":618,"b":385,"c":477,"d":744,"e":2238},
{"t":358.5,"a":584,"b":376,"c":455,"d":759,"e":2181},
{"t":361.5,"a":642,"b":393,"c":432,"d":782,"e":2202},
{"t":364.5,"a":603,"b":366,"c":468,"d":737,"e":2149},
{"t":367.5,"a":569,"b":380,"c":449,"d":764,"e":2225},
{"t":370.5,"a":626,"b":371,"c":463,"d":751,"e":2192},
{"t":373.5,"a":598,"b":386,"c":441,"d":738,"e":2170},
{"t":376.5,"a":621,"b":360,"c":474,"d":769,"e":2213},
{"t":379.5,"a":580,"b":379,"c":455,"d":753,"e":2241},
{"t":382.5,"a":639,"b":392,"c":434,"d":775,"e":2177},
{"t":385.5,"a":606,"b":368,"c":468,"d":741,"e":2196},
{"t":388.5,"a":575,"b":383,"c":452,"d":763,"e":2159},
{"t":391.5,"a":628,"b":357,"c":480,"d":732,"e":2224},
{"t":394.5,"a":601,"b":389,"c":444,"d":758,"e":2188},
{"t":397.5,"a":654,"b":375,"c":460,"d":780,"e":2207},
{"t":400.5,"a":587,"b":363,"c":437,"d":745,"e":2235},
{"t":403.5,"a":614,"b":384,"c":472,"d":760,"e":2166},
{"t":406.5,"a":596,"b":371,"c":451,"d":739,"e":2199},
{"t":409.5,"a":635,"b":392,"c":463,"d":773,"e":2218}
]},
"vconcat":[
{"width":604,"height":89.8,
 "title":{"text":"TH0","anchor":"end","offset":-20,"dx":-5,"fontSize":16},
 "layer":[
  {"mark":{"type":"tick","orient":"vertical","size":20,"thickness":1,"color":"#ff8a8a","opacity":1,"clip":true},
   "encoding":{
    "x":{"field":"t","type":"quantitative","scale":{"domain":[-521,433],"nice":false,"zero":false},"axis":{"orient":"bottom","values":[-500,-400,-300,-200,-100,0,100,200,300,400],"tickSize":-6,"tickDash":{"condition":{"test":"datum.value % 200 !== 0","value":[3,20]},"value":[]},"labels":false,"title":null}},
    "y":{"field":"a","type":"quantitative","scale":{"domain":[516,680],"nice":false,"zero":false},"axis":{"orient":"left","values":[520,530,540,550,560,570,580,590,600,610,620,630,640,650,660,670,680],"tickSize":-7,"tickDash":{"condition":{"test":"datum.value % 50 !== 0","value":[3.5,20]},"value":[]},"labelExpr":"datum.value % 50 === 0 ? '' + datum.value : ''","labelPadding":12,"title":null}}}},
  {"mark":{"type":"line","color":"#ff0000","strokeWidth":1,"clip":true},
   "encoding":{
    "x":{"field":"t","type":"quantitative","axis":{"orient":"top","values":[-500,-400,-300,-200,-100,0,100,200,300,400],"tickSize":-6,"tickDash":{"condition":{"test":"datum.value % 200 !== 0","value":[3,20]},"value":[]},"labels":false,"title":null}},
    "y":{"field":"a","type":"quantitative","axis":{"orient":"right","values":[520,530,540,550,560,570,580,590,600,610,620,630,640,650,660,670,680],"tickSize":-7,"tickDash":{"condition":{"test":"datum.value % 50 !== 0","value":[3.5,20]},"value":[]},"labels":false,"title":null}}}}
 ],
 "resolve":{"axis":{"x":"independent","y":"independent"}}},
{"width":604,"height":89.8,
 "title":{"text":"TH1","anchor":"end","offset":-20,"dx":-5,"fontSize":16},
 "layer":[
  {"mark":{"type":"tick","orient":"vertical","size":20,"thickness":1,"color":"#8aff8a","opacity":1,"clip":true},
   "encoding":{
    "x":{"field":"t","type":"quantitative","scale":{"domain":[-521,433],"nice":false,"zero":false},"axis":{"orient":"bottom","values":[-500,-400,-300,-200,-100,0,100,200,300,400],"tickSize":-6,"tickDash":{"condition":{"test":"datum.value % 200 !== 0","value":[3,20]},"value":[]},"labels":false,"title":null}},
    "y":{"field":"b","type":"quantitative","scale":{"domain":[309,449],"nice":false,"zero":false},"axis":{"orient":"left","values":[310,320,330,340,350,360,370,380,390,400,410,420,430,440],"tickSize":-7,"tickDash":{"condition":{"test":"datum.value % 50 !== 0","value":[3.5,20]},"value":[]},"labelExpr":"datum.value % 50 === 0 ? '' + datum.value : ''","labelPadding":12,"title":null}}}},
  {"mark":{"type":"line","color":"#00ff00","strokeWidth":1,"clip":true},
   "encoding":{
    "x":{"field":"t","type":"quantitative","axis":{"orient":"top","values":[-500,-400,-300,-200,-100,0,100,200,300,400],"tickSize":-6,"tickDash":{"condition":{"test":"datum.value % 200 !== 0","value":[3,20]},"value":[]},"labels":false,"title":null}},
    "y":{"field":"b","type":"quantitative","axis":{"orient":"right","values":[310,320,330,340,350,360,370,380,390,400,410,420,430,440],"tickSize":-7,"tickDash":{"condition":{"test":"datum.value % 50 !== 0","value":[3.5,20]},"value":[]},"labels":false,"title":null}}}}
 ],
 "resolve":{"axis":{"x":"independent","y":"independent"}}},
{"width":604,"height":89.8,
 "title":{"text":"TH2","anchor":"end","offset":-20,"dx":-5,"fontSize":16},
 "layer":[
  {"mark":{"type":"tick","orient":"vertical","size":20,"thickness":1,"color":"#8a8aff","opacity":1,"clip":true},
   "encoding":{
    "x":{"field":"t","type":"quantitative","scale":{"domain":[-521,433],"nice":false,"zero":false},"axis":{"orient":"bottom","values":[-500,-400,-300,-200,-100,0,100,200,300,400],"tickSize":-6,"tickDash":{"condition":{"test":"datum.value % 200 !== 0","value":[3,20]},"value":[]},"labels":false,"title":null}},
    "y":{"field":"c","type":"quantitative","scale":{"domain":[400,549],"nice":false,"zero":false},"axis":{"orient":"left","values":[400,410,420,430,440,450,460,470,480,490,500,510,520,530,540],"tickSize":-7,"tickDash":{"condition":{"test":"datum.value % 50 !== 0","value":[3.5,20]},"value":[]},"labelExpr":"datum.value % 50 === 0 ? '' + datum.value : ''","labelPadding":12,"title":"Counts/sec","titlePadding":22}}}},
  {"mark":{"type":"line","color":"#0000ff","strokeWidth":1,"clip":true},
   "encoding":{
    "x":{"field":"t","type":"quantitative","axis":{"orient":"top","values":[-500,-400,-300,-200,-100,0,100,200,300,400],"tickSize":-6,"tickDash":{"condition":{"test":"datum.value % 200 !== 0","value":[3,20]},"value":[]},"labels":false,"title":null}},
    "y":{"field":"c","type":"quantitative","axis":{"orient":"right","values":[400,410,420,430,440,450,460,470,480,490,500,510,520,530,540],"tickSize":-7,"tickDash":{"condition":{"test":"datum.value % 50 !== 0","value":[3.5,20]},"value":[]},"labels":false,"title":null}}}}
 ],
 "resolve":{"axis":{"x":"independent","y":"independent"}}},
{"width":604,"height":89.8,
 "title":{"text":"TH3","anchor":"end","offset":-20,"dx":-5,"fontSize":16},
 "layer":[
  {"mark":{"type":"tick","orient":"vertical","size":20,"thickness":1,"color":"#8affff","opacity":1,"clip":true},
   "encoding":{
    "x":{"field":"t","type":"quantitative","scale":{"domain":[-521,433],"nice":false,"zero":false},"axis":{"orient":"bottom","values":[-500,-400,-300,-200,-100,0,100,200,300,400],"tickSize":-6,"tickDash":{"condition":{"test":"datum.value % 200 !== 0","value":[3,20]},"value":[]},"labels":false,"title":null}},
    "y":{"field":"d","type":"quantitative","scale":{"domain":[659,878],"nice":false,"zero":false},"axis":{"orient":"left","values":[660,670,680,690,700,710,720,730,740,750,760,770,780,790,800,810,820,830,840,850,860,870],"tickSize":-7,"tickDash":{"condition":{"test":"datum.value % 50 !== 0","value":[3.5,20]},"value":[]},"labelExpr":"datum.value % 50 === 0 ? '' + datum.value : ''","labelPadding":12,"title":null}}}},
  {"mark":{"type":"line","color":"#00ffff","strokeWidth":1,"clip":true},
   "encoding":{
    "x":{"field":"t","type":"quantitative","axis":{"orient":"top","values":[-500,-400,-300,-200,-100,0,100,200,300,400],"tickSize":-6,"tickDash":{"condition":{"test":"datum.value % 200 !== 0","value":[3,20]},"value":[]},"labels":false,"title":null}},
    "y":{"field":"d","type":"quantitative","axis":{"orient":"right","values":[660,670,680,690,700,710,720,730,740,750,760,770,780,790,800,810,820,830,840,850,860,870],"tickSize":-7,"tickDash":{"condition":{"test":"datum.value % 50 !== 0","value":[3.5,20]},"value":[]},"labels":false,"title":null}}}}
 ],
 "resolve":{"axis":{"x":"independent","y":"independent"}}},
{"width":604,"height":89.8,
 "title":{"text":"TH0123","anchor":"end","offset":-20,"dx":-5,"fontSize":16},
 "layer":[
  {"mark":{"type":"tick","orient":"vertical","size":20,"thickness":1,"color":"#ff8aff","opacity":1,"clip":true},
   "encoding":{
    "x":{"field":"t","type":"quantitative","scale":{"domain":[-521,433],"nice":false,"zero":false},"axis":{"orient":"bottom","values":[-500,-400,-300,-200,-100,0,100,200,300,400],"tickSize":-6,"tickDash":{"condition":{"test":"datum.value % 200 !== 0","value":[3,20]},"value":[]},"labelExpr":"datum.value % 200 === 0 ? datum.label : ''","labelPadding":8,"title":"Time [sec] 0 = 2012/05/14 01:12:43","titlePadding":4}},
    "y":{"field":"e","type":"quantitative","scale":{"domain":[2029,2474],"nice":false,"zero":false},"axis":{"orient":"left","values":[2040,2060,2080,2100,2120,2140,2160,2180,2200,2220,2240,2260,2280,2300,2320,2340,2360,2380,2400,2420,2440,2460],"tickSize":-7,"tickDash":{"condition":{"test":"datum.value % 100 !== 0","value":[3.5,20]},"value":[]},"labelExpr":"datum.value % 100 === 0 ? '' + datum.value : ''","labelPadding":12,"title":null}}}},
  {"mark":{"type":"line","color":"#ff00ff","strokeWidth":1,"clip":true},
   "encoding":{
    "x":{"field":"t","type":"quantitative","axis":{"orient":"top","values":[-500,-400,-300,-200,-100,0,100,200,300,400],"tickSize":-6,"tickDash":{"condition":{"test":"datum.value % 200 !== 0","value":[3,20]},"value":[]},"labels":false,"title":null}},
    "y":{"field":"e","type":"quantitative","axis":{"orient":"right","values":[2040,2060,2080,2100,2120,2140,2160,2180,2200,2220,2240,2260,2280,2300,2320,2340,2360,2380,2400,2420,2440,2460],"tickSize":-7,"tickDash":{"condition":{"test":"datum.value % 100 !== 0","value":[3.5,20]},"value":[]},"labels":false,"title":null}}}}
 ],
 "resolve":{"axis":{"x":"independent","y":"independent"}}}
],
"spacing":0,
"bounds":"flush",
"config":{
 "font":"Liberation Sans",
 "view":{"stroke":"#000","strokeWidth":1.5},
 "axis":{"domain":false,"grid":false,"tickColor":"#000","tickWidth":1,"labelFont":"Liberation Sans","labelFontSize":16,"labelColor":"#000","titleFont":"Liberation Sans","titleFontSize":16.5,"titleFontWeight":"normal","titleColor":"#000"},
 "title":{"font":"Liberation Sans","fontWeight":"normal","color":"#000"}
}
}
